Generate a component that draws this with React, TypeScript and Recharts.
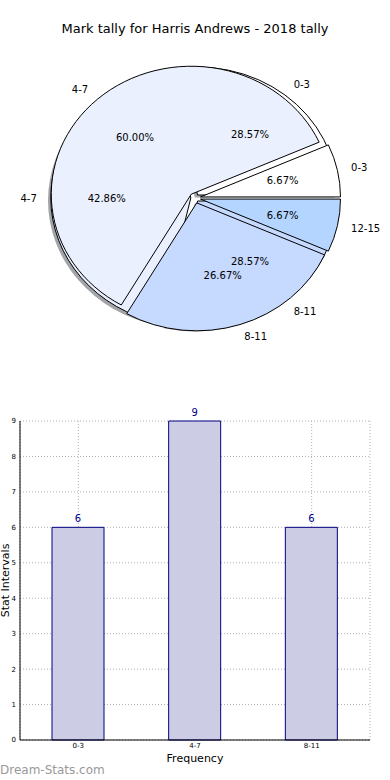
import React from 'react';
import { PieChart, Pie, Cell, BarChart, Bar, XAxis, YAxis, CartesianGrid, LabelList } from 'recharts';

const chartTitle = 'Mark tally for Harris Andrews - 2018 tally';

// back pie + bar chart
const tallyIntervals = ['0-3', '4-7', '8-11'];
const tallyCounts = [6, 9, 6];

// front pie
const markIntervals = ['0-3', '4-7', '8-11', '12-15'];
const markCounts = [1, 9, 4, 1];

const backColors = ['#ffffff', '#eaf0fe', '#c6d9fe'];
const frontColors = ['#ffffff', '#eaf0fe', '#c6d9fe', '#b3d5ff'];

const yTicks = [0, 1, 2, 3, 4, 5, 6, 7, 8, 9];

const tallyData = tallyIntervals.map((name, i) => ({ name, value: tallyCounts[i] }));
const markData = markIntervals.map((name, i) => ({ name, value: markCounts[i] }));
const barData = tallyIntervals.map((interval, i) => ({ interval, count: tallyCounts[i] }));

const FONT = '"DejaVu Sans", Verdana, sans-serif';
const RAD = Math.PI / 180;
const RY_RATIO = 0.914;
const BACK_EXPLODE = 0.03;
const FRONT_EXPLODE = 0.04;

function wedgePath(cx: number, cy: number, rx: number, ry: number, start: number, end: number) {
  const x1 = cx + rx * Math.cos(start * RAD);
  const y1 = cy - ry * Math.sin(start * RAD);
  const x2 = cx + rx * Math.cos(end * RAD);
  const y2 = cy - ry * Math.sin(end * RAD);
  const large = Math.abs(end - start) > 180 ? 1 : 0;
  return `M${cx},${cy}L${x1},${y1}A${rx},${ry} 0 ${large} 0 ${x2},${y2}Z`;
}

// elliptical wedge, pushed out along its mid angle like matplotlib's explode
const makeWedge = (explode: number, shadow = false) => (props: any) => {
  const { cx, cy, outerRadius, startAngle, endAngle, fill } = props;
  const rx = outerRadius;
  const ry = outerRadius * RY_RATIO;
  const mid = (startAngle + endAngle) / 2;
  let ox = cx + explode * rx * Math.cos(mid * RAD);
  let oy = cy - explode * ry * Math.sin(mid * RAD);
  if (shadow) {
    ox -= 0.02 * rx;
    oy += 0.02 * ry;
    return <path d={wedgePath(ox, oy, rx, ry, startAngle, endAngle)} fill="#474a50" fillOpacity={0.5} stroke="none" />;
  }
  return <path d={wedgePath(ox, oy, rx, ry, startAngle, endAngle)} fill={fill} stroke="#000" strokeWidth={1} />;
};

const makeLabels = (explode: number) => (props: any) => {
  const { cx, cy, outerRadius, midAngle, percent } = props;
  const name = props.name ?? props.payload?.name;
  const rx = outerRadius;
  const ry = outerRadius * RY_RATIO;
  const c = Math.cos(midAngle * RAD);
  const s = Math.sin(midAngle * RAD);
  const ox = cx + explode * rx * c;
  const oy = cy - explode * ry * s;
  return (
    <g>
      <text
        x={ox + 1.1 * rx * c}
        y={oy - 1.1 * ry * s}
        textAnchor={c >= 0 ? 'start' : 'end'}
        dominantBaseline="central"
        fontSize={10}
        fontFamily={FONT}
        fill="#000"
      >
        {name}
      </text>
      <text
        x={ox + 0.6 * rx * c}
        y={oy - 0.6 * ry * s}
        textAnchor="middle"
        dominantBaseline="central"
        fontSize={10}
        fontFamily={FONT}
        fill="#000"
      >
        {(percent * 100).toFixed(2)}%
      </text>
    </g>
  );
};

const backShadow = makeWedge(BACK_EXPLODE, true);
const backWedge = makeWedge(BACK_EXPLODE);
const frontWedge = makeWedge(FRONT_EXPLODE);

const App: React.FC = () => {
  return (
    <div style={{ position: 'absolute', left: 0, top: 0, width: 390, height: 780, background: '#fff', fontFamily: FONT }}>
      <div style={{ position: 'absolute', left: 0, top: 21, width: 390, textAlign: 'center', fontSize: 13, color: '#000' }}>
        {chartTitle}
      </div>
      <div style={{ position: 'absolute', left: 0, top: 0 }}>
        <PieChart width={390} height={370} margin={{ top: 0, right: 0, bottom: 0, left: 0 }}>
          <Pie
            data={tallyData}
            dataKey="value"
            nameKey="name"
            cx={195}
            cy={198}
            outerRadius={140}
            startAngle={0}
            endAngle={360}
            shape={backShadow}
            inactiveShape={backShadow}
            activeShape={backShadow}
            labelLine={false}
            isAnimationActive={false}
          />
          <Pie
            data={tallyData}
            dataKey="value"
            nameKey="name"
            cx={195}
            cy={198}
            outerRadius={140}
            startAngle={0}
            endAngle={360}
            shape={backWedge}
            inactiveShape={backWedge}
            activeShape={backWedge}
            label={makeLabels(BACK_EXPLODE)}
            labelLine={false}
            isAnimationActive={false}
          >
            {tallyData.map((d, i) => (
              <Cell key={d.name} fill={backColors[i]} />
            ))}
          </Pie>
          <Pie
            data={markData}
            dataKey="value"
            nameKey="name"
            cx={195}
            cy={198}
            outerRadius={140}
            startAngle={0}
            endAngle={360}
            shape={frontWedge}
            inactiveShape={frontWedge}
            activeShape={frontWedge}
            label={makeLabels(FRONT_EXPLODE)}
            labelLine={false}
            isAnimationActive={false}
          >
            {markData.map((d, i) => (
              <Cell key={d.name} fill={frontColors[i]} />
            ))}
          </Pie>
        </PieChart>
      </div>
      <div style={{ position: 'absolute', left: 0, top: 400 }}>
        <BarChart width={390} height={380} data={barData} margin={{ top: 21, right: 20, bottom: 18, left: 0 }} barSize={52}>
          <CartesianGrid stroke="#b0b0b0" strokeDasharray="1 2" />
          <XAxis
            dataKey="interval"
            tick={{ fontSize: 7, fill: '#000', fontFamily: FONT }}
            tickLine={false}
            tickSize={3}
            tickMargin={0}
            axisLine={{ stroke: '#000' }}
            height={22}
            label={{ value: 'Frequency', position: 'insideBottom', offset: 0, fontSize: 11, fill: '#000', fontFamily: FONT }}
          />
          <XAxis xAxisId="top" orientation="top" dataKey="interval" tick={false} tickLine={false} axisLine={{ stroke: '#000' }} height={0} />
          <YAxis
            domain={[0, 9]}
            ticks={yTicks}
            interval={0}
            tick={{ fontSize: 7, fill: '#000', fontFamily: FONT }}
            tickLine={false}
            tickSize={4}
            tickMargin={0}
            axisLine={{ stroke: '#000' }}
            width={20}
            label={{ value: 'Stat Intervals', angle: -90, position: 'insideLeft', offset: 5, fontSize: 11, fill: '#000', fontFamily: FONT, style: { textAnchor: 'middle' } }}
          />
          <YAxis yAxisId="right" orientation="right" tick={false} tickLine={false} axisLine={{ stroke: '#000' }} width={0} />
          <Bar dataKey="count" fill="#ccccE5" stroke="#000080" strokeWidth={1} isAnimationActive={false}>
            <LabelList dataKey="count" position="top" offset={5} fill="#00008b" fontSize={10} fontFamily={FONT} />
          </Bar>
        </BarChart>
      </div>
      <div style={{ position: 'absolute', left: 0, top: 763, fontSize: 12, color: '#999999' }}>
        Dream-Stats.com
      </div>
    </div>
  );
};

export default App;
